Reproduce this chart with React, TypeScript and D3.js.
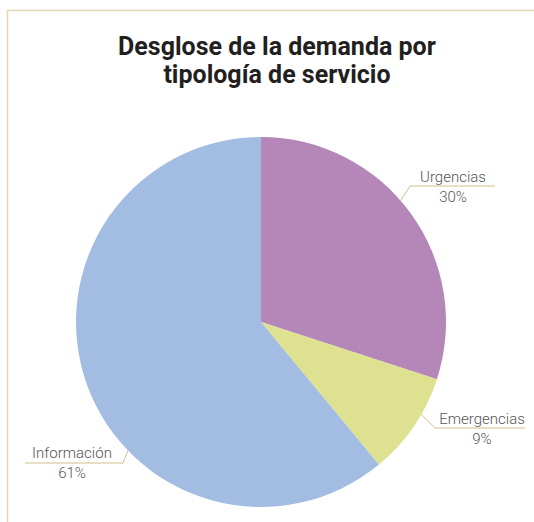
import React, { useEffect, useRef } from "react"
import * as d3 from "d3"

const categories = ["Urgencias", "Emergencias", "Información"]
const values = [30, 9, 61]
const colors = ["#b586b8", "#dde190", "#a3bde2"]
const titleLines = ["Desglose de la demanda por", "tipología de servicio"]

// label layout: angle on the rim (deg), elbow, end of the horizontal, text centre
const labelLayout = [
  { angle: 49, elbow: [410, 186], end: 495, text: [453, 182] },
  { angle: 120, elbow: [435, 428], end: 525, text: [482, 424] },
  { angle: 226, elbow: [123, 463], end: 25, text: [72, 458] },
]

export default function App() {
  const ref = useRef<SVGSVGElement>(null)

  useEffect(() => {
    const w = 534
    const h = 522
    const cx = 261
    const cy = 322
    const radius = 185

    const svg = d3.select(ref.current)
    svg.selectAll("*").remove()
    svg.attr("width", w).attr("height", h)

    svg.append("rect").attr("width", w).attr("height", h).attr("fill", "#fff")

    // frame
    svg.append("path")
      .attr("d", `M7.5,${h} V10.5 H${w}`)
      .attr("fill", "none")
      .attr("stroke", "#e2d6b2")
      .attr("stroke-width", 1.5)

    svg.append("text")
      .attr("x", 277)
      .attr("text-anchor", "middle")
      .style("font-family", "Roboto, sans-serif")
      .style("font-weight", 700)
      .style("font-size", "25px")
      .attr("fill", "#231f20")
      .selectAll("tspan")
      .data(titleLines)
      .enter()
      .append("tspan")
      .attr("x", 277)
      .attr("y", (d, i) => 55 + i * 28)
      .text(d => d)

    const pie = d3.pie<number>().sort(null).value(d => d)
    const arcs = pie(values)
    const arc = d3.arc<d3.PieArcDatum<number>>().innerRadius(0).outerRadius(radius)

    const g = svg.append("g").attr("transform", `translate(${cx}, ${cy})`)
    g.selectAll("path")
      .data(arcs)
      .enter()
      .append("path")
      .attr("d", arc)
      .attr("fill", (d, i) => colors[i])

    const labels = svg.append("g")
      .style("font-family", "Roboto, sans-serif")
      .style("font-weight", 300)
      .style("font-size", "15px")
      .attr("fill", "#555")

    categories.forEach((c, i) => {
      const lay = labelLayout[i]
      const a = (lay.angle * Math.PI) / 180
      const sx = cx + radius * Math.sin(a)
      const sy = cy - radius * Math.cos(a)
      labels.append("path")
        .attr("d", `M${sx},${sy} L${lay.elbow[0]},${lay.elbow[1]} H${lay.end}`)
        .attr("fill", "none")
        .attr("stroke", "#d2bf8a")
        .attr("stroke-width", 1)
      labels.append("text")
        .attr("x", lay.text[0])
        .attr("y", lay.text[1])
        .attr("text-anchor", "middle")
        .text(c)
      labels.append("text")
        .attr("x", lay.text[0])
        .attr("y", lay.text[1] + 20)
        .attr("text-anchor", "middle")
        .text(d3.format("d")(values[i]) + "%")
    })
  }, [])

  return (
    <svg ref={ref} style={{ position: "absolute", left: 0, top: 0, display: "block" }} />
  )
}
